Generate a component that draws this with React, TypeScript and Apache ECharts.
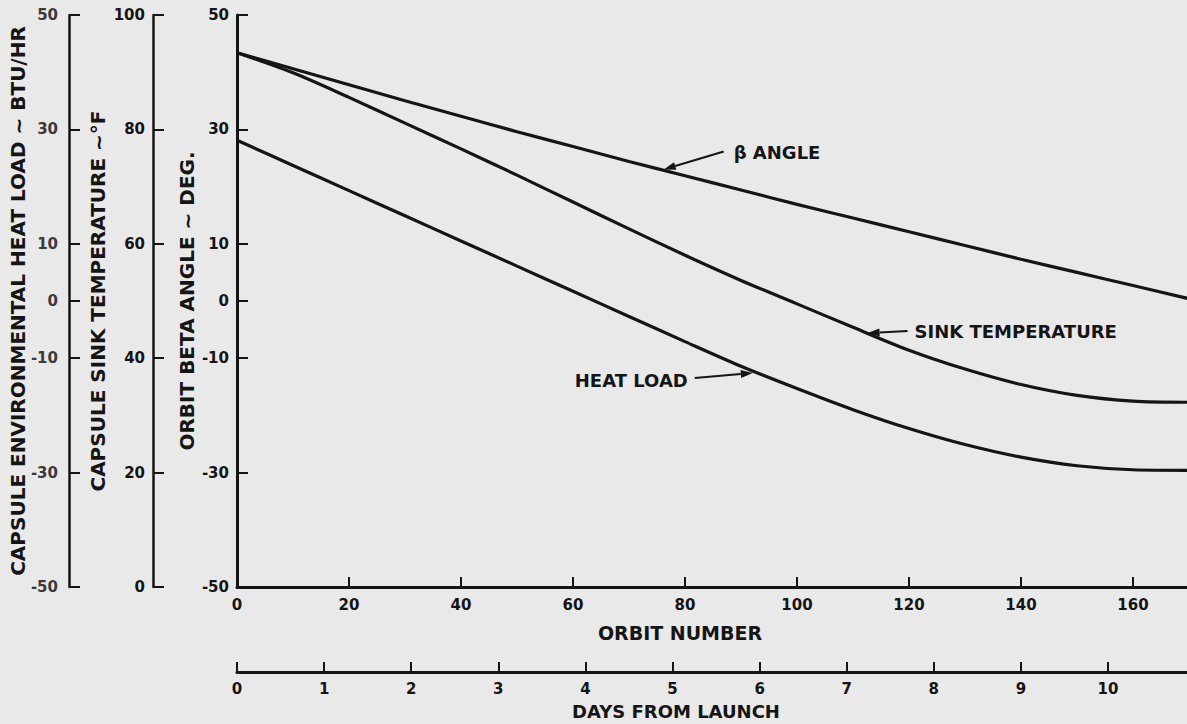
import React, { useEffect, useRef } from "react";
import * as echarts from "echarts";

// ---- data ----
const orbitNumbers = [0, 10, 20, 30, 40, 50, 60, 70, 80, 90, 100, 110, 120, 130, 140, 150, 160, 170];
const betaAngleDeg = [43.4, 40.6, 37.8, 35.0, 32.3, 29.6, 27.0, 24.4, 21.9, 19.4, 16.9, 14.5, 12.1, 9.7, 7.3, 5.0, 2.7, 0.4];
const sinkTempF = [93.4, 89.9, 85.6, 81.1, 76.6, 72.0, 67.3, 62.6, 58.0, 53.6, 49.5, 45.4, 41.4, 38.1, 35.4, 33.5, 32.5, 32.3];
const heatLoadBtu = [28.1, 23.7, 19.3, 14.9, 10.5, 6.1, 1.7, -2.7, -7.1, -11.4, -15.3, -19.0, -22.3, -25.1, -27.3, -28.8, -29.5, -29.6];

const orbitTicks = [0, 20, 40, 60, 80, 100, 120, 140, 160];
const dayTicks = [0, 1, 2, 3, 4, 5, 6, 7, 8, 9, 10];
const betaTicks = [-50, -30, -10, 0, 10, 30, 50];
const heatTicks = [-50, -30, -10, 0, 10, 30, 50];
const sinkTicks = [0, 20, 40, 60, 80, 100];

// annotation anchors (data coordinates on each curve)
const betaNote = { text: "β ANGLE", at: [76.2, 23.0] };
const sinkNote = { text: "SINK TEMPERATURE", at: [112.6, 44.4] };
const heatNote = { text: "HEAT LOAD", at: [92.1, -12.6] };

const INK = "#151515";
const BG = "#e9e9e9";
const FONT = "DejaVu Sans";

export default function App() {
  const ref = useRef<HTMLDivElement>(null);

  useEffect(() => {
    document.body.style.margin = "0";
    const chart = echarts.init(ref.current!, undefined, { renderer: "svg" });

    const pairs = (ys: number[]) => orbitNumbers.map((x, i) => [x, ys[i]]);
    const label = (extra: any = {}) => ({
      color: INK,
      fontFamily: FONT,
      fontWeight: "bold",
      fontSize: 15,
      ...extra,
    });
    const nameStyle = (extra: any = {}) => ({
      color: INK,
      fontFamily: FONT,
      fontWeight: "bold",
      fontSize: 19,
      ...extra,
    });

    const yAxisBase = (
      ticks: number[],
      min: number,
      max: number,
      offset: number,
      name: string,
      gap: number,
      lw: number,
      labelColor: string,
      margin: number
    ) => ({
      type: "value",
      position: "left",
      offset,
      min,
      max,
      name,
      nameLocation: "middle",
      nameRotate: 90,
      nameGap: gap,
      nameMoveOverlap: false,
      nameTextStyle: nameStyle({ fontSize: 20 }),
      splitLine: { show: false },
      axisLine: { show: true, onZero: false, lineStyle: { color: INK, width: lw } },
      axisTick: { show: true, inside: true, length: 11, customValues: ticks, lineStyle: { color: INK, width: 2 } },
      axisLabel: { show: true, margin, customValues: ticks, ...label({ color: labelColor }) },
    });

    const lineSeries = (name: string, ys: number[], yAxisIndex: number) => ({
      name,
      type: "line",
      xAxisIndex: 0,
      yAxisIndex,
      data: pairs(ys),
      smooth: 0.3,
      showSymbol: false,
      symbol: "none",
      lineStyle: { color: INK, width: 3.2 },
      silent: true,
    });

    chart.setOption({
      animation: false,
      backgroundColor: BG,
      grid: { left: 237, top: 15, width: 952, height: 572, containLabel: false, outerBoundsMode: "none" },
      xAxis: [
        {
          type: "value",
          position: "bottom",
          min: 0,
          max: 170,
          name: "ORBIT NUMBER",
          nameLocation: "middle",
          nameGap: 36,
          nameTextStyle: nameStyle({ padding: [0, 66, 0, 0] }),
          splitLine: { show: false },
          axisLine: { show: true, onZero: false, lineStyle: { color: INK, width: 3 } },
          axisTick: { show: true, inside: true, length: 10, customValues: orbitTicks, lineStyle: { color: INK, width: 2 } },
          axisLabel: { show: true, margin: 10, customValues: orbitTicks, ...label() },
        },
        {
          type: "value",
          position: "bottom",
          offset: 85,
          min: 0,
          max: 10.93,
          name: "DAYS FROM LAUNCH",
          nameLocation: "middle",
          nameGap: 30,
          nameTextStyle: nameStyle({ fontSize: 18, padding: [0, 74, 0, 0] }),
          splitLine: { show: false },
          axisLine: { show: true, onZero: false, lineStyle: { color: INK, width: 3 } },
          axisTick: { show: true, inside: true, length: 10, customValues: dayTicks, lineStyle: { color: INK, width: 2 } },
          axisLabel: { show: true, margin: 9, customValues: dayTicks, ...label() },
        },
      ],
      yAxis: [
        yAxisBase(betaTicks, -50, 50, 0, "ORBIT BETA ANGLE ~ DEG.", 40, 3, INK, 8),
        yAxisBase(sinkTicks, 0, 100, 84, "CAPSULE SINK TEMPERATURE ~°F", 45, 2.5, INK, 8),
        yAxisBase(heatTicks, -50, 50, 168, "CAPSULE ENVIRONMENTAL HEAT LOAD ~ BTU/HR", 41, 2.5, "#3a3a3a", 11),
      ],
      series: [
        lineSeries("β ANGLE", betaAngleDeg, 0),
        lineSeries("SINK TEMPERATURE", sinkTempF, 1),
        lineSeries("HEAT LOAD", heatLoadBtu, 2),
      ],
    });

    // annotations with arrows, anchored on the curves through the series' coordinate systems
    const arrow = (from: number[], tip: number[]) => {
      const dx = tip[0] - from[0];
      const dy = tip[1] - from[1];
      const len = Math.hypot(dx, dy) || 1;
      const ux = dx / len;
      const uy = dy / len;
      const hl = 12;
      const hw = 4;
      const bx = tip[0] - ux * hl;
      const by = tip[1] - uy * hl;
      return [
        { type: "line", silent: true, shape: { x1: from[0], y1: from[1], x2: bx, y2: by }, style: { stroke: INK, lineWidth: 2 } },
        {
          type: "polygon",
          silent: true,
          shape: { points: [[tip[0], tip[1]], [bx - uy * hw, by + ux * hw], [bx + uy * hw, by - ux * hw]] },
          style: { fill: INK },
        },
      ];
    };
    const text = (x: number, y: number, s: string, align: string) => ({
      type: "text",
      silent: true,
      x,
      y,
      style: {
        text: s,
        fill: INK,
        font: `bold 18px "${FONT}"`,
        align,
        textAlign: align,
        verticalAlign: "middle",
        textVerticalAlign: "middle",
      },
    });

    const tB = chart.convertToPixel({ seriesIndex: 0 }, betaNote.at) as number[];
    const tS = chart.convertToPixel({ seriesIndex: 1 }, sinkNote.at) as number[];
    const tH = chart.convertToPixel({ seriesIndex: 2 }, heatNote.at) as number[];

    chart.setOption({
      graphic: [
        ...arrow([tB[0] + 60, tB[1] - 18], tB),
        text(tB[0] + 70, tB[1] - 17, betaNote.text, "left"),
        ...arrow([tS[0] + 40, tS[1] - 2], tS),
        text(tS[0] + 47, tS[1] - 2, sinkNote.text, "left"),
        ...arrow([tH[0] - 58, tH[1] + 5], tH),
        text(tH[0] - 65, tH[1] + 7, heatNote.text, "right"),
      ],
    });

    return () => chart.dispose();
  }, []);

  return <div ref={ref} style={{ width: 1187, height: 724, background: BG }} />;
}
